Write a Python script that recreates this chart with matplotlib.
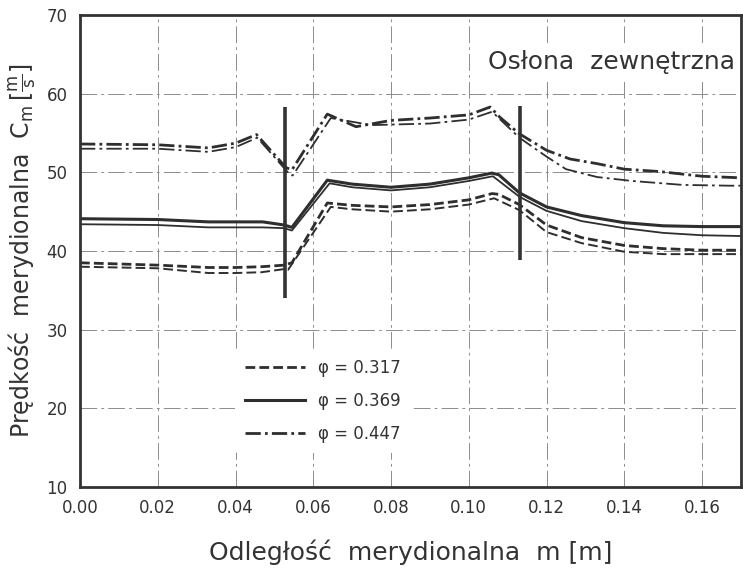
import matplotlib
matplotlib.use("Agg")
import matplotlib.pyplot as plt
from matplotlib.lines import Line2D

plt.rcParams['font.family'] = ['DejaVu Sans']
plt.rcParams['mathtext.fontset'] = 'dejavusans'
plt.rcParams['lines.scale_dashes'] = False

# ---- data ----
x_317_a = [0.000, 0.020, 0.033, 0.040, 0.0467, 0.0525, 0.0545, 0.0636, 0.070, 0.080, 0.090, 0.100, 0.106,
           0.1077, 0.113, 0.120, 0.129, 0.140, 0.150, 0.160, 0.170]
y_317_a = [38.5, 38.2, 37.9, 37.9, 38.0, 38.2, 38.5, 46.1, 45.8, 45.6, 45.9, 46.5, 47.3,
           47.2, 45.9, 43.3, 41.7, 40.7, 40.3, 40.1, 40.1]
x_317_b = [0.000, 0.020, 0.033, 0.040, 0.0467, 0.0525, 0.0535, 0.0645, 0.070, 0.080, 0.090, 0.100, 0.1065,
           0.113, 0.120, 0.129, 0.140, 0.150, 0.160, 0.170]
y_317_b = [38.0, 37.8, 37.2, 37.2, 37.3, 37.7, 37.6, 45.6, 45.3, 45.0, 45.3, 45.9, 46.7,
           45.2, 42.4, 41.0, 39.9, 39.6, 39.6, 39.6]

x_369_a = [0.000, 0.020, 0.033, 0.040, 0.047, 0.0525, 0.0545, 0.0636, 0.070, 0.080, 0.090, 0.100, 0.1059,
           0.1077, 0.113, 0.120, 0.129, 0.140, 0.150, 0.160, 0.170]
y_369_a = [44.1, 44.0, 43.7, 43.7, 43.7, 43.3, 43.0, 49.0, 48.5, 48.1, 48.5, 49.3, 49.9,
           49.7, 47.4, 45.6, 44.5, 43.6, 43.2, 43.1, 43.1]
x_369_b = [0.000, 0.020, 0.033, 0.040, 0.047, 0.0525, 0.0545, 0.0642, 0.070, 0.080, 0.090, 0.100, 0.1062,
           0.113, 0.120, 0.129, 0.140, 0.150, 0.160, 0.170]
y_369_b = [43.4, 43.3, 43.0, 43.0, 43.0, 42.9, 42.6, 48.6, 48.1, 47.7, 48.1, 48.9, 49.5,
           46.9, 45.1, 43.8, 42.9, 42.3, 42.0, 41.9]

x_447_a = [0.000, 0.020, 0.033, 0.040, 0.0454, 0.0530, 0.0545, 0.0636, 0.071, 0.080, 0.090, 0.100, 0.1055,
           0.108, 0.113, 0.120, 0.126, 0.133, 0.140, 0.149, 0.160, 0.170]
y_447_a = [53.6, 53.5, 53.1, 53.7, 54.8, 50.6, 50.3, 57.4, 55.8, 56.6, 56.9, 57.3, 58.3,
           57.0, 54.9, 52.8, 51.7, 51.1, 50.4, 50.1, 49.5, 49.3]
x_447_b = [0.000, 0.020, 0.033, 0.040, 0.0456, 0.0540, 0.0547, 0.0645, 0.075, 0.090, 0.100, 0.106,
           0.113, 0.120, 0.125, 0.133, 0.142, 0.155, 0.167, 0.170]
y_447_b = [53.0, 53.0, 52.6, 53.2, 54.4, 49.7, 49.6, 56.9, 56.0, 56.2, 56.7, 57.7,
           54.4, 52.0, 50.4, 49.4, 48.9, 48.4, 48.3, 48.3]

bar_x = [0.0526, 0.1131]
bar_y0 = [34.0, 38.9]
bar_y1 = [58.3, 58.4]

x_ticks = [0.00, 0.02, 0.04, 0.06, 0.08, 0.10, 0.12, 0.14, 0.16]
x_tick_labels = ["0.00", "0.02", "0.04", "0.06", "0.08", "0.10", "0.12", "0.14", "0.16"]
y_ticks = [10, 20, 30, 40, 50, 60, 70]
legend_labels = ["φ = 0.317", "φ = 0.369", "φ = 0.447"]

# ---- styles ----
ink = '#2e2e2e'
dash = (0, (7, 3))
dashdot = (0, (11, 3, 2, 3))

fig = plt.figure(figsize=(7.43, 5.74), dpi=100)
ax = fig.add_axes([0.1077, 0.1516, 0.8895, 0.8223])
ax.set_xlim(0.0, 0.17)
ax.set_ylim(10, 70)

ax.grid(True, color='#8c8c8c', lw=0.7, ls=(0, (12, 3, 2, 3)))
ax.set_axisbelow(True)

ax.plot(x_317_a, y_317_a, color=ink, lw=2.0, ls=dash)
ax.plot(x_317_b, y_317_b, color=ink, lw=1.4, ls=dash)
ax.plot(x_369_a, y_369_a, color=ink, lw=2.2, ls='-')
ax.plot(x_369_b, y_369_b, color=ink, lw=1.3, ls='-')
ax.plot(x_447_a, y_447_a, color=ink, lw=2.0, ls=dashdot)
ax.plot(x_447_b, y_447_b, color=ink, lw=1.3, ls=dashdot)

for bx, b0, b1 in zip(bar_x, bar_y0, bar_y1):
    ax.vlines(bx, b0, b1, color='#333333', lw=2.6)

ax.set_xticks(x_ticks)
ax.set_xticklabels(x_tick_labels)
ax.set_yticks(y_ticks)
ax.tick_params(length=0, labelsize=12, colors='#333333', pad=9)

for s in ax.spines.values():
    s.set_color('#333333')
    s.set_linewidth(2.0)

ax.text(0.1685, 64.0, "Osłona  zewnętrzna", ha='right', va='center', fontsize=18,
        color='#333333', bbox=dict(facecolor='white', edgecolor='none', pad=3))

handles = [Line2D([], [], color=ink, lw=2.0, ls=dash),
           Line2D([], [], color=ink, lw=2.2, ls='-'),
           Line2D([], [], color=ink, lw=2.0, ls=dashdot)]
leg = ax.legend(handles, legend_labels, loc='upper left', bbox_to_anchor=(0.222, 0.31),
                frameon=True, fontsize=12, handlelength=3.6, labelspacing=0.9,
                borderpad=0.6, handletextpad=0.8)
leg.get_frame().set_facecolor('white')
leg.get_frame().set_edgecolor('none')
leg.get_frame().set_alpha(1.0)
for t in leg.get_texts():
    t.set_color('#333333')

ax.set_xlabel("Odległość  merydionalna  m [m]", fontsize=18, color='#333333', labelpad=16)
ax.set_ylabel(r"Prędkość  merydionalna  $\mathrm{C}_\mathrm{m}\,[\frac{\mathrm{m}}{\mathrm{s}}]$",
              fontsize=17, color='#333333', labelpad=6)

fig.savefig("out.png", dpi=100, facecolor='white')
